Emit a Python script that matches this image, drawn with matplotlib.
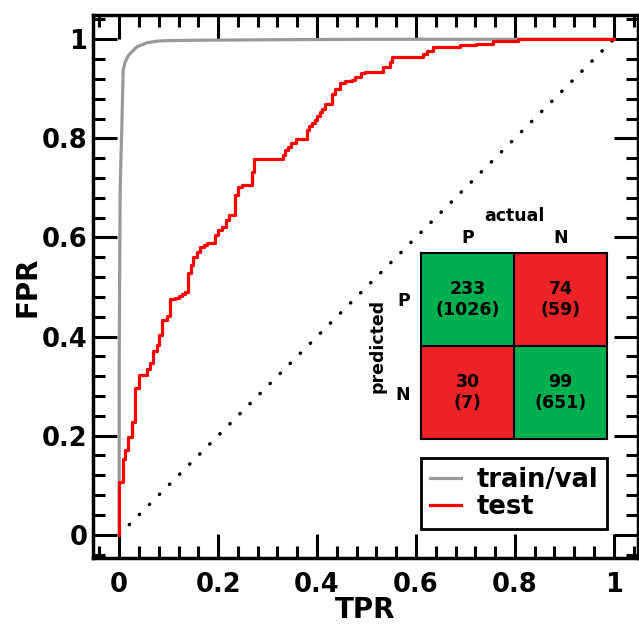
import numpy as np
import matplotlib.pyplot as plt
from matplotlib.colors import ListedColormap
from matplotlib.ticker import MultipleLocator, FuncFormatter

plt.rcParams['font.family'] = ['DejaVu Sans']
plt.rcParams['font.weight'] = 'bold'
plt.rcParams['axes.labelweight'] = 'bold'

# train/val ROC curve
trainval_x = [0, 0.0, 0.001, 0.002, 0.004, 0.005, 0.008, 0.012, 0.019, 0.026,
              0.036, 0.049, 0.056, 0.075, 0.09, 0.15, 0.3, 0.5, 0.8, 1.0]
trainval_y = [0, 0.35, 0.55, 0.70, 0.78, 0.81, 0.9375, 0.954, 0.968, 0.975,
              0.985, 0.99, 0.993, 0.996, 0.997, 0.998, 0.999, 1.0, 1.0, 1.0]

# test ROC curve: staircase corners (x where the rise happens, level after it)
test_x = [0, 0, 0.007, 0.012, 0.018, 0.026, 0.031, 0.041, 0.056, 0.063,
          0.069, 0.077, 0.081, 0.086, 0.096, 0.103, 0.113, 0.12, 0.127, 0.133,
          0.14, 0.145, 0.15, 0.157, 0.164, 0.171, 0.178, 0.194, 0.2, 0.207,
          0.216, 0.222, 0.234, 0.241, 0.248, 0.268, 0.272, 0.332, 0.335, 0.342,
          0.348, 0.357, 0.379, 0.384, 0.389, 0.396, 0.4, 0.406, 0.41, 0.416,
          0.43, 0.436, 0.446, 0.457, 0.47, 0.477, 0.488, 0.497, 0.534, 0.547,
          0.552, 0.615, 0.622, 0.635, 0.689, 0.721, 0.756, 0.807, 1.0]
test_y = [0, 0.106, 0.152, 0.171, 0.198, 0.228, 0.297, 0.323, 0.335, 0.347,
          0.37, 0.383, 0.403, 0.433, 0.441, 0.475, 0.478, 0.481, 0.485, 0.49,
          0.528, 0.544, 0.561, 0.571, 0.581, 0.585, 0.588, 0.605, 0.615, 0.622,
          0.635, 0.645, 0.685, 0.702, 0.705, 0.732, 0.759, 0.766, 0.776, 0.783,
          0.79, 0.798, 0.817, 0.825, 0.831, 0.837, 0.845, 0.853, 0.86, 0.87,
          0.89, 0.9, 0.911, 0.915, 0.918, 0.924, 0.931, 0.933, 0.944, 0.954,
          0.964, 0.971, 0.976, 0.984, 0.988, 0.991, 0.996, 1.0, 1.0]

# confusion matrices: test (train/val in brackets)
cm_test = np.array([[233, 74], [30, 99]])
cm_trainval = np.array([[1026, 59], [7, 651]])
cm_correct = np.array([[1, 0], [0, 1]])
class_labels = ['P', 'N']

W, H = 639, 624
fig = plt.figure(figsize=(W / 100, H / 100), dpi=100)
ax = fig.add_axes([93 / W, 66 / H, 545 / W, 543 / H])

ax.plot([0, 1], [0, 1], color='k', lw=2.5, ls=(0, (0.1, 4)),
        dash_capstyle='round')
ax.plot(trainval_x, trainval_y, color='#999999', lw=2.3, label='train/val')
ax.step(test_x, test_y, where='post', color='#ff0000', lw=2.3, label='test')

ax.set_xlim(-0.053, 1.049)
ax.set_ylim(-0.047, 1.049)

fmt = FuncFormatter(lambda v, p: '%g' % (round(v, 2) + 0))
for axis in (ax.xaxis, ax.yaxis):
    axis.set_major_locator(MultipleLocator(0.2))
    axis.set_minor_locator(MultipleLocator(0.04))
    axis.set_major_formatter(fmt)
ax.tick_params(which='both', direction='in', top=True, right=True,
               width=2.2, labelsize=18.5)
ax.tick_params(which='major', length=17)
ax.tick_params(which='minor', length=8.5)
ax.tick_params(axis='x', pad=10)
ax.tick_params(axis='y', pad=4)
for sp in ax.spines.values():
    sp.set_linewidth(2.5)

ax.set_xlabel('TPR', fontsize=20, labelpad=-1)
ax.set_ylabel('FPR', fontsize=20, labelpad=0)

leg = ax.legend(loc='upper left', bbox_to_anchor=(421 / W, 1 - 458 / H),
                bbox_transform=fig.transFigure, borderaxespad=0,
                fontsize=18.5, handlelength=1.2, handletextpad=0.6,
                labelspacing=0.05, borderpad=0.35, fancybox=False,
                edgecolor='k', framealpha=1)
leg.get_frame().set_linewidth(2)

# confusion matrix inset
ins = fig.add_axes([421 / W, 185 / H, 186 / W, 186 / H])
ins.imshow(cm_correct, cmap=ListedColormap(['#ec2227', '#00af50']),
           vmin=0, vmax=1)
ins.axhline(0.5, color='k', lw=1.5)
ins.axvline(0.5, color='k', lw=1.5)
for i in range(2):
    for j in range(2):
        ins.text(j, i, '%d\n(%d)' % (cm_test[i, j], cm_trainval[i, j]),
                 ha='center', va='center', fontsize=12.5, linespacing=1.25)
ins.xaxis.tick_top()
ins.xaxis.set_label_position('top')
ins.set_xticks([0, 1], class_labels)
ins.set_yticks([0, 1], class_labels)
ins.tick_params(length=0, labelsize=12.5)
ins.tick_params(axis='x', pad=4)
ins.tick_params(axis='y', pad=8)
ins.set_xlabel('actual', fontsize=12.5, labelpad=6)
ins.set_ylabel('predicted', fontsize=12.5, labelpad=6)
for sp in ins.spines.values():
    sp.set_linewidth(1.5)

fig.savefig('out.png', dpi=100)
